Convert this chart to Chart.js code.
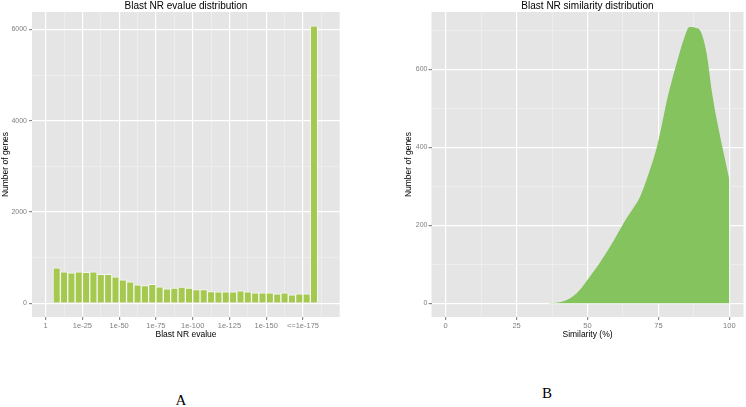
<!DOCTYPE html>
<html lang="en">
<head>
    <meta charset="UTF-8">
    <title>Blast NR distributions</title>
    <script src="https://cdn.jsdelivr.net/npm/chart.js"></script>
    <style>
        body { margin: 0; background: #fff; width: 746px; height: 407px; position: relative; overflow: hidden; }
        canvas { position: absolute; top: 0; }
        #evalueChart { left: 0; }
        #simChart { left: 373px; }
        .panel-label { position: absolute; font-family: "Liberation Serif", "DejaVu Serif", serif; font-size: 15px; color: #000; transform: translate(-50%, -50%); }
    </style>
</head>
<body>
    <canvas id="evalueChart" width="373" height="340"></canvas>
    <canvas id="simChart" width="373" height="340"></canvas>
    <div class="panel-label" style="left: 181px; top: 400px;">A</div>
    <div class="panel-label" style="left: 547px; top: 393px;">B</div>

    <script>
        // --- panel A: histogram of -log10(evalue), bins of 5
        const evalueBins = [7.5, 12.5, 17.5, 22.5, 27.5, 32.5, 37.5, 42.5, 47.5, 52.5, 57.5, 62.5,
            67.5, 72.5, 77.5, 82.5, 87.5, 92.5, 97.5, 102.5, 107.5, 112.5, 117.5, 122.5,
            127.5, 132.5, 137.5, 142.5, 147.5, 152.5, 157.5, 162.5, 167.5, 172.5, 177.5, 182.5];
        const evalueCounts = [772, 685, 663, 685, 678, 685, 634, 634, 575, 510, 466, 401,
            386, 415, 357, 313, 328, 350, 328, 299, 299, 255, 248, 248,
            248, 270, 248, 226, 226, 226, 204, 226, 182, 204, 204, 6080];
        const evalueTickValues = [0, 25, 50, 75, 100, 125, 150, 175];
        const evalueTickLabels = ['1', '1e-25', '1e-50', '1e-75', '1e-100', '1e-125', '1e-150', '<=1e-175'];
        const evalueYTicks = [0, 2000, 4000, 6000];

        // --- panel B: density-like area of similarity (%)
        const simX = [36, 38, 40, 42, 44, 46, 48, 50, 52, 54, 56, 58, 60, 62, 64, 66, 68, 70,
            72, 74, 76, 78, 80, 82, 84, 86, 88, 90, 92, 94, 96, 98, 100];
        const simY = [0, 0.5, 2, 6, 13, 24, 40, 60, 80, 100, 122, 145, 170, 196, 220, 242, 265, 300,
            342, 388, 450, 520, 578, 630, 678, 708, 706, 695, 640, 535, 455, 385, 317];
        const simXTicks = [0, 25, 50, 75, 100];
        const simYTicks = [0, 200, 400, 600];

        const FONT = "'Liberation Sans', Arial, sans-serif";
        const GREY_TXT = '#7f7f7f';

        // grey panel + title above the plot area (ggplot look)
        const ggPanel = {
            id: 'ggPanel',
            beforeDraw(chart, args, opts) {
                const { ctx, chartArea: a } = chart;
                ctx.save();
                ctx.fillStyle = '#e5e5e5';
                ctx.fillRect(a.left, a.top, a.right - a.left, a.bottom - a.top);
                ctx.restore();
            },
            afterDraw(chart, args, opts) {
                const { ctx, chartArea: a } = chart;
                ctx.save();
                ctx.font = '10px ' + FONT;
                ctx.fillStyle = '#000';
                ctx.textAlign = 'center';
                ctx.textBaseline = 'middle';
                ctx.fillText(opts.text, (a.left + a.right) / 2, 6);
                ctx.restore();
            }
        };

        // builds major + minor ticks (minor halfway between majors)
        function withMinor(majors, lo, hi) {
            const step = majors[1] - majors[0];
            const out = [];
            for (let v = majors[0] - step / 2; v <= hi; v += step / 2) {
                if (v >= lo) out.push({ value: v });
            }
            return out;
        }

        function gridOpts(majors) {
            return {
                color: c => majors.includes(c.tick.value) ? '#ffffff' : '#f2f2f2',
                lineWidth: c => majors.includes(c.tick.value) ? 1.2 : 0.6,
                tickColor: c => majors.includes(c.tick.value) ? '#8a8a8a' : 'rgba(0,0,0,0)',
                tickLength: 3,
                offset: false
            };
        }

        function axisTitle(text, pad) {
            return { display: true, text: text, color: '#000', font: { family: FONT, size: 8.5 }, padding: pad };
        }

        // ---------- chart A
        const xMinA = -9.3, xMaxA = 200.2, yMinA = -304, yMaxA = 6384;
        new Chart(document.getElementById('evalueChart'), {
            type: 'bar',
            data: {
                datasets: [{
                    data: evalueBins.map((b, i) => ({ x: b, y: evalueCounts[i] })),
                    backgroundColor: '#a5c94f',
                    borderColor: 'rgba(255,255,255,0.65)',
                    borderWidth: 1,
                    barPercentage: 1,
                    categoryPercentage: 1
                }]
            },
            options: {
                responsive: false,
                animation: false,
                layout: { padding: { top: 12, right: 33, bottom: 0, left: 0 } },
                plugins: { legend: { display: false }, tooltip: { enabled: false }, ggPanel: { text: 'Blast NR evalue distribution' } },
                scales: {
                    x: {
                        type: 'linear', min: xMinA, max: xMaxA, offset: false,
                        afterBuildTicks: s => { s.ticks = withMinor(evalueTickValues, xMinA, xMaxA); },
                        afterFit: s => { s.height = 23; },
                        grid: gridOpts(evalueTickValues),
                        border: { display: false },
                        ticks: {
                            autoSkip: false, maxRotation: 0, padding: 1,
                            color: GREY_TXT, font: { family: FONT, size: 7.5 },
                            callback: v => { const i = evalueTickValues.indexOf(v); return i >= 0 ? evalueTickLabels[i] : ''; }
                        },
                        title: axisTitle('Blast NR evalue', { top: 0, bottom: 0 })
                    },
                    y: {
                        min: yMinA, max: yMaxA,
                        afterBuildTicks: s => { s.ticks = withMinor(evalueYTicks, yMinA, yMaxA); },
                        afterFit: s => { s.width = 32; },
                        grid: gridOpts(evalueYTicks),
                        border: { display: false },
                        ticks: {
                            autoSkip: false, padding: 2,
                            color: GREY_TXT, font: { family: FONT, size: 7 },
                            callback: v => evalueYTicks.includes(v) ? String(v) : ''
                        },
                        title: axisTitle('Number of genes', { top: 1, bottom: 0 })
                    }
                }
            },
            plugins: [ggPanel]
        });

        // ---------- chart B
        const xMinB = -5, xMaxB = 105, yMinB = -35.5, yMaxB = 746.5;
        new Chart(document.getElementById('simChart'), {
            type: 'line',
            data: {
                datasets: [{
                    data: simX.map((x, i) => ({ x: x, y: simY[i] })),
                    fill: 'origin',
                    backgroundColor: '#85c35e',
                    borderWidth: 0,
                    pointRadius: 0,
                    cubicInterpolationMode: 'monotone'
                }]
            },
            options: {
                responsive: false,
                animation: false,
                layout: { padding: { top: 12, right: 2.5, bottom: 0, left: 0 } },
                plugins: { legend: { display: false }, tooltip: { enabled: false }, ggPanel: { text: 'Blast NR similarity distribution' } },
                scales: {
                    x: {
                        type: 'linear', min: xMinB, max: xMaxB,
                        afterBuildTicks: s => { s.ticks = withMinor(simXTicks, xMinB, xMaxB); },
                        afterFit: s => { s.height = 23; },
                        grid: gridOpts(simXTicks),
                        border: { display: false },
                        ticks: {
                            autoSkip: false, maxRotation: 0, padding: 1,
                            color: GREY_TXT, font: { family: FONT, size: 7.5 },
                            callback: v => simXTicks.includes(v) ? String(v) : ''
                        },
                        title: axisTitle('Similarity (%)', { top: 0, bottom: 0 })
                    },
                    y: {
                        min: yMinB, max: yMaxB,
                        afterBuildTicks: s => { s.ticks = withMinor(simYTicks, yMinB, yMaxB); },
                        afterFit: s => { s.width = 58.5; },
                        grid: gridOpts(simYTicks),
                        border: { display: false },
                        ticks: {
                            autoSkip: false, padding: 1,
                            color: GREY_TXT, font: { family: FONT, size: 7 },
                            callback: v => simYTicks.includes(v) ? String(v) : ''
                        },
                        title: axisTitle('Number of genes', { top: 31, bottom: 0 })
                    }
                }
            },
            plugins: [ggPanel]
        });
    </script>
</body>
</html>
